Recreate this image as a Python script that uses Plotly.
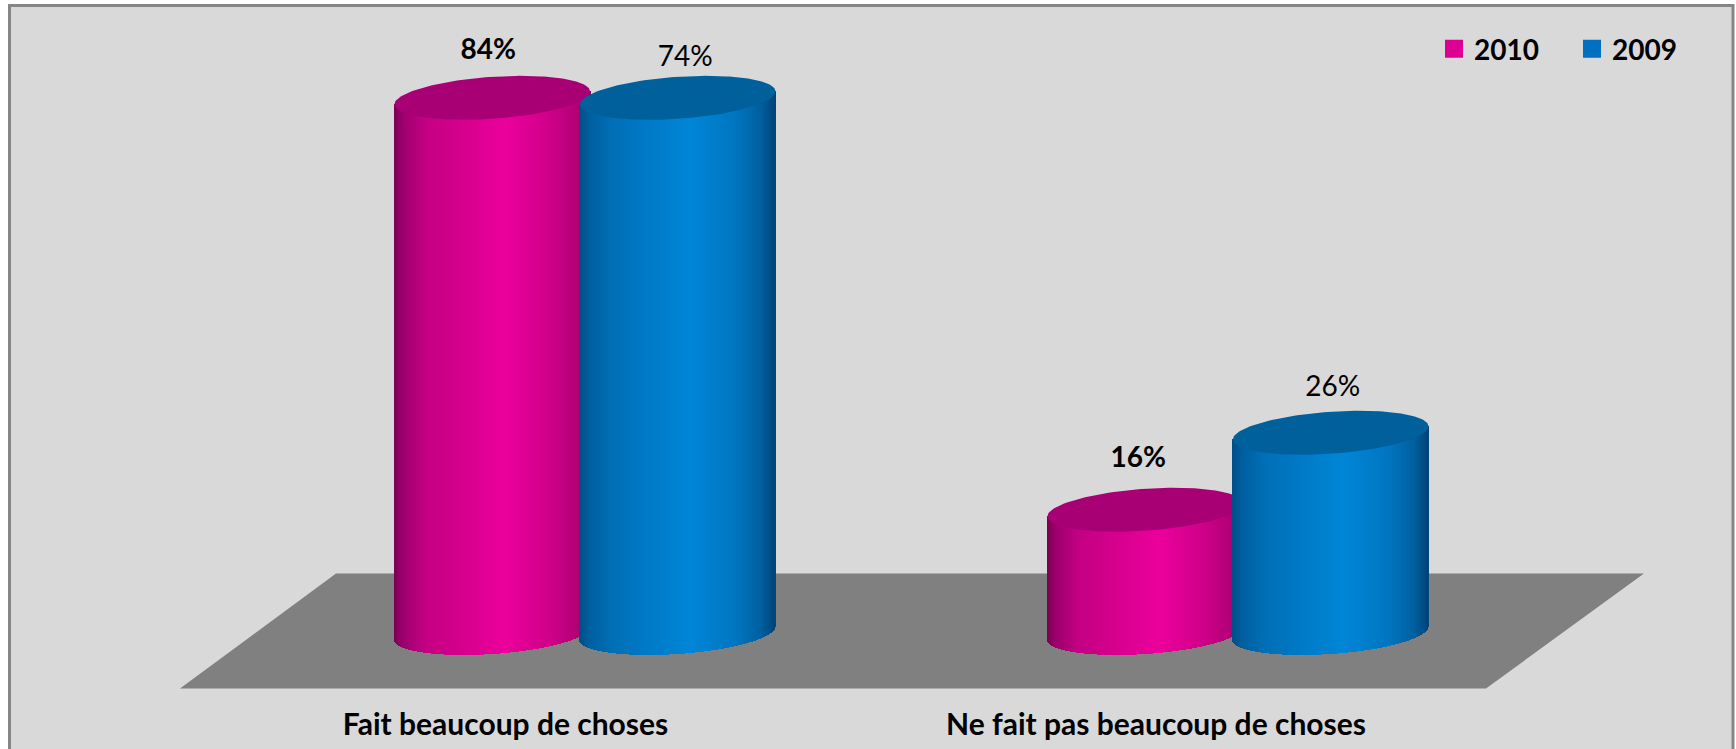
import numpy as np
import plotly.graph_objects as go

# ---- data ----
categories = ["Fait beaucoup de choses", "Ne fait pas beaucoup de choses"]
series_names = ["2010", "2009"]
values_2010 = [84, 16]
values_2009 = [74, 26]

# ---- chart geometry (axis units: x = pixels, y = percent) ----
W, H = 1736, 749
PLOT_BOTTOM = 704
BASE_PX = 633
PX_PER_PCT = 7.7
AXIS_CLIP = 69.5            # the original value axis truncates the tall columns
Y_RANGE = [(BASE_PX - PLOT_BOTTOM) / PX_PER_PCT, BASE_PX / PX_PER_PCT]
X_RANGE = [0, W]
GROUP_X = [585, 1238]
SERIES_DX = 92.75
RX = 97.75
RY = 21 / PX_PER_PCT
SHEAR = 6.5 / PX_PER_PCT
TICK_X = [505.5, 1156]
FONT = "Lato"
TXT = "#000000"

MAGENTA = dict(stops=[(0, "#7E0055"), (.05, "#A00070"), (.16, "#C40083"), (.45, "#E00094"),
                      (.57, "#EC009C"), (.8, "#CF0089"), (.93, "#B40078"), (1, "#900060")],
               top="#A80074", legend="#DC0092")
BLUE = dict(stops=[(0, "#004F88"), (.05, "#005F9F"), (.16, "#006FB6"), (.45, "#0080CE"),
                   (.57, "#0086D8"), (.8, "#0076C0"), (.93, "#0060A0"), (1, "#004577")],
            top="#00609C", legend="#0070C0")


def hex2rgb(h):
    return np.array([int(h[i:i + 2], 16) for i in (1, 3, 5)], float)


def shade(stops, t):
    ts = [s[0] for s in stops]
    cs = np.array([hex2rgb(s[1]) for s in stops])
    return "rgb(%d,%d,%d)" % tuple(np.interp(t, ts, cs[:, k]) for k in range(3))


def cylinder(cx, value, style, xa, ya):
    h = min(value, AXIS_CLIP)
    xs = np.arange(cx - RX, cx + RX, 1.0) + 0.5
    u = np.clip((xs - cx) / RX, -1, 1)
    bottom = SHEAR * u - RY * np.sqrt(1 - u ** 2)
    top = h + SHEAR * u
    body = go.Bar(x=xs, y=top - bottom, base=bottom, width=1.25,
                  marker=dict(color=[shade(style["stops"], (x - xs[0]) / (xs[-1] - xs[0])) for x in xs],
                              line_width=0),
                  showlegend=False, hoverinfo="skip", xaxis=xa, yaxis=ya)
    t = np.linspace(0, 2 * np.pi, 181)
    cap = go.Scatter(x=cx + RX * np.cos(t), y=h + SHEAR * np.cos(t) + RY * np.sin(t),
                     mode="lines", fill="toself", fillcolor=style["top"], line=dict(width=0),
                     showlegend=False, hoverinfo="skip", xaxis=xa, yaxis=ya)
    return [body, cap]


fig = go.Figure()

# floor
fy0, fy1 = (BASE_PX - 688.5) / PX_PER_PCT, (BASE_PX - 573.5) / PX_PER_PCT
fig.add_trace(go.Scatter(x=[180, 1486, 1644, 336, 180], y=[fy0, fy0, fy1, fy1, fy0], mode="lines",
                         fill="toself", fillcolor="#808080", line=dict(width=0),
                         showlegend=False, hoverinfo="skip", xaxis="x", yaxis="y"))

# columns: each series on its own overlaid axes so it stacks over the previous one
for g, v in zip(GROUP_X, values_2010):
    for tr in cylinder(g - SERIES_DX, v, MAGENTA, "x2", "y2"):
        fig.add_trace(tr)
for g, v in zip(GROUP_X, values_2009):
    for tr in cylinder(g + SERIES_DX, v, BLUE, "x3", "y3"):
        fig.add_trace(tr)

# data labels
LABEL_LIFT_2010 = [45.5, 50]
LABEL_LIFT_2009 = [39, 44]
LABEL_DX_2010 = [-4, -7]
LABEL_DX_2009 = [7.5, 2]


def labels(vals, dxs, lifts, sign, weight):
    return go.Scatter(
        x=[g + sign * SERIES_DX + d for g, d in zip(GROUP_X, dxs)],
        y=[min(v, AXIS_CLIP) + l / PX_PER_PCT for v, l in zip(vals, lifts)],
        text=[f"{v}%" for v in vals], mode="text", textposition="middle center",
        textfont=dict(family=FONT, size=28, color=TXT, weight=weight),
        showlegend=False, hoverinfo="skip", cliponaxis=False, xaxis="x3", yaxis="y3")


fig.add_trace(labels(values_2010, LABEL_DX_2010, LABEL_LIFT_2010, -1, 700))
fig.add_trace(labels(values_2009, LABEL_DX_2009, LABEL_LIFT_2009, 1, 400))

# legend entries
for name, style in zip(series_names, (MAGENTA, BLUE)):
    fig.add_trace(go.Scatter(x=[None], y=[None], mode="markers", name=name,
                             marker=dict(symbol="square", size=16, color=style["legend"],
                                         line=dict(width=2, color=style["legend"])),
                             xaxis="x3", yaxis="y3"))

hidden = dict(visible=False, range=X_RANGE, fixedrange=True)
hidden_y = dict(visible=False, range=Y_RANGE, fixedrange=True)
fig.update_layout(
    width=W, height=H, margin=dict(l=0, r=0, t=0, b=H - PLOT_BOTTOM, pad=0),
    paper_bgcolor="#FFFFFF", plot_bgcolor="rgba(0,0,0,0)", barmode="overlay", bargap=0,
    font=dict(family=FONT, color=TXT),
    xaxis=dict(range=X_RANGE, tickmode="array", tickvals=TICK_X, ticktext=categories,
               showgrid=False, zeroline=False, showline=False, ticks="", fixedrange=True,
               tickfont=dict(family=FONT, size=30, color=TXT, weight=700)),
    yaxis=dict(visible=False, range=Y_RANGE, fixedrange=True),
    xaxis2=dict(overlaying="x", **hidden), yaxis2=dict(overlaying="y", **hidden_y),
    xaxis3=dict(overlaying="x", **hidden), yaxis3=dict(overlaying="y", **hidden_y),
    legend=dict(orientation="h", x=1434 / W, xanchor="left", y=1 - 49 / PLOT_BOTTOM, yanchor="middle",
                bgcolor="rgba(0,0,0,0)", itemsizing="trace", itemwidth=30,
                entrywidth=93, entrywidthmode="pixels",
                font=dict(family=FONT, size=28, color=TXT, weight=700)),
    shapes=[dict(type="rect", xref="paper", yref="paper", layer="below",
                 x0=9.5 / W, x1=1733 / W, y0=-0.1, y1=1 - 5.5 / PLOT_BOTTOM,
                 fillcolor="#D9D9D9", line=dict(color="#868686", width=3))],
)

fig.write_html("out.html", config={"displayModeBar": False},
               post_script="document.body.style.margin='0';document.body.style.overflow='hidden';")
